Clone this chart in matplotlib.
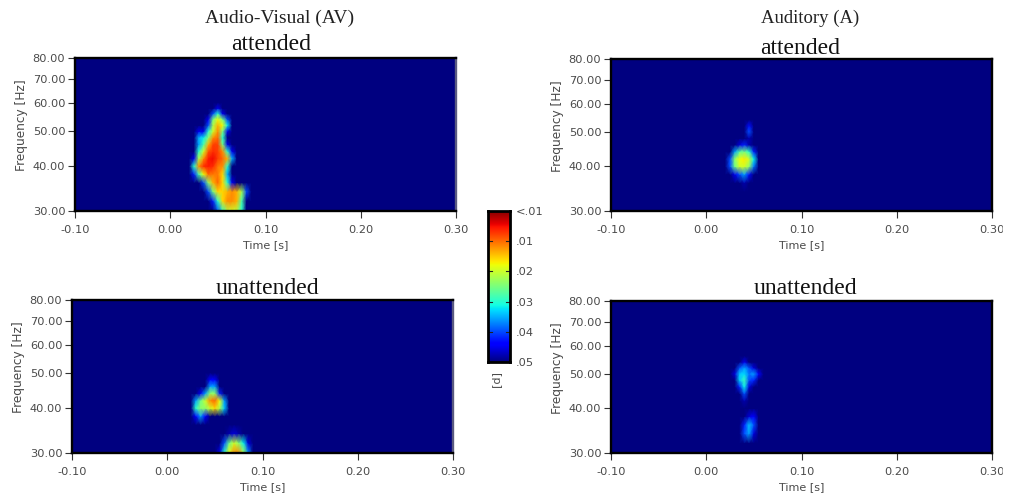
import matplotlib
matplotlib.use("Agg")
import matplotlib.pyplot as plt
from matplotlib.patches import Rectangle
import numpy as np

W, H = 1015, 500

# time / frequency grids of each heat map, p values
t_av_att = [.02, .025, .03, .035, .04, .045, .05, .055, .06, .065, .07, .075, .08, .085]
f_av_att = [30, 32, 34, 36, 38, 40, 42, 44, 46, 48, 50, 52, 54, 56, 58, 60]
p_av_att = [
    [.05, .05, .05, .05, .05, .05, .04, .03, .022, .02, .022, .03, .05, .05],
    [.05, .05, .05, .05, .05, .042, .03, .016, .012, .012, .014, .028, .05, .05],
    [.05, .05, .05, .05, .04, .025, .016, .016, .014, .012, .014, .022, .04, .05],
    [.05, .05, .05, .04, .024, .014, .01, .016, .03, .045, .05, .05, .05, .05],
    [.05, .042, .028, .018, .01, .011, .011, .016, .035, .05, .05, .05, .05, .05],
    [.05, .03, .012, .007, .006, .007, .011, .012, .03, .05, .05, .05, .05, .05],
    [.05, .045, .022, .012, .006, .005, .008, .01, .014, .035, .05, .05, .05, .05],
    [.05, .05, .03, .02, .009, .007, .008, .012, .03, .045, .05, .05, .05, .05],
    [.05, .05, .036, .028, .014, .008, .008, .025, .045, .05, .05, .05, .05, .05],
    [.05, .05, .035, .032, .024, .012, .01, .03, .05, .05, .05, .05, .05, .05],
    [.05, .05, .045, .045, .03, .02, .012, .025, .045, .05, .05, .05, .05, .05],
    [.05, .05, .05, .05, .04, .022, .014, .018, .032, .05, .05, .05, .05, .05],
    [.05, .05, .05, .05, .045, .025, .018, .025, .04, .05, .05, .05, .05, .05],
    [.05, .05, .05, .05, .05, .04, .03, .045, .05, .05, .05, .05, .05, .05],
    [.05, .05, .05, .05, .05, .05, .045, .05, .05, .05, .05, .05, .05, .05],
    [.05, .05, .05, .05, .05, .05, .05, .05, .05, .05, .05, .05, .05, .05],
]

t_av_un = [.025, .03, .035, .04, .045, .05, .055, .06, .065, .07, .075, .08, .085, .09]
f_av_un = [30, 32, 34, 36, 38, 40, 42, 44, 46, 48, 50]
p_av_un = [
    [.05, .05, .05, .05, .05, .05, .045, .03, .018, .012, .012, .022, .036, .05],
    [.05, .05, .05, .05, .05, .05, .05, .04, .026, .02, .024, .032, .046, .05],
    [.05, .05, .05, .05, .05, .05, .05, .05, .048, .046, .048, .05, .05, .05],
    [.05, .05, .05, .05, .05, .05, .05, .05, .05, .05, .05, .05, .05, .05],
    [.05, .044, .036, .044, .05, .05, .05, .05, .05, .05, .05, .05, .05, .05],
    [.05, .03, .024, .024, .02, .016, .022, .034, .05, .05, .05, .05, .05, .05],
    [.05, .036, .026, .02, .012, .01, .018, .036, .05, .05, .05, .05, .05, .05],
    [.05, .05, .045, .036, .024, .024, .042, .05, .05, .05, .05, .05, .05, .05],
    [.05, .05, .05, .05, .036, .036, .05, .05, .05, .05, .05, .05, .05, .05],
    [.05, .05, .05, .05, .044, .044, .05, .05, .05, .05, .05, .05, .05, .05],
    [.05, .05, .05, .05, .05, .05, .05, .05, .05, .05, .05, .05, .05, .05],
]

t_a_att = [.02, .025, .03, .035, .04, .045, .05, .055, .06]
f_a_att = [34, 36, 38, 40, 42, 44, 46, 48, 50, 52, 54]
p_a_att = [
    [.05, .05, .05, .05, .05, .05, .05, .05, .05],
    [.05, .05, .05, .05, .048, .05, .05, .05, .05],
    [.05, .05, .045, .04, .036, .043, .05, .05, .05],
    [.05, .04, .026, .02, .02, .024, .038, .05, .05],
    [.05, .04, .024, .018, .017, .02, .032, .05, .05],
    [.05, .05, .036, .027, .025, .03, .042, .05, .05],
    [.05, .05, .05, .046, .042, .048, .05, .05, .05],
    [.05, .05, .05, .05, .05, .048, .05, .05, .05],
    [.05, .05, .05, .05, .05, .04, .05, .05, .05],
    [.05, .05, .05, .05, .05, .043, .05, .05, .05],
    [.05, .05, .05, .05, .05, .05, .05, .05, .05],
]

t_a_un = [.025, .03, .035, .04, .045, .05, .055, .06]
f_a_un = [32, 34, 36, 38, 40, 42, 44, 46, 48, 50, 52, 54, 56]
p_a_un = [
    [.05, .05, .05, .05, .05, .05, .05, .05],
    [.05, .05, .05, .04, .036, .046, .05, .05],
    [.05, .05, .05, .042, .034, .04, .05, .05],
    [.05, .05, .05, .05, .046, .044, .05, .05],
    [.05, .05, .05, .05, .05, .05, .05, .05],
    [.05, .05, .05, .048, .05, .05, .05, .05],
    [.05, .05, .05, .04, .05, .05, .05, .05],
    [.05, .05, .042, .032, .046, .05, .05, .05],
    [.05, .05, .034, .029, .04, .042, .05, .05],
    [.05, .046, .034, .033, .038, .036, .044, .05],
    [.05, .05, .04, .036, .04, .046, .05, .05],
    [.05, .05, .05, .045, .05, .05, .05, .05],
    [.05, .05, .05, .05, .05, .05, .05, .05],
]

time_ticks = [-.1, 0, .1, .2, .3]
freq_ticks = [30, 40, 50, 60, 70, 80]
cbar_ticks = [0, .01, .02, .03, .04, .05]
cbar_labels = ["<.01", ".01", ".02", ".03", ".04", ".05"]

sans = "DejaVu Sans"
serif = "Liberation Serif"
grey = "#4a4a4a"
cmap = plt.get_cmap("jet_r")

fig = plt.figure(figsize=(W / 100, H / 100), dpi=100)


def px_axes(x0, y0, x1, y1):
    return fig.add_axes([x0 / W, 1 - y1 / H, (x1 - x0) / W, (y1 - y0) / H])


def heat(box, t, f, p, title, title_xy, right_col="black"):
    ax = px_axes(*box)
    ax.set_facecolor(cmap(1.0))
    ax.pcolormesh(t, f, p, shading="gouraud", cmap=cmap, vmin=0, vmax=.05, rasterized=True)
    ax.set_yscale("log")
    ax.set_xlim(-.1, .3)
    ax.set_ylim(30, 80)
    ax.set_xticks(time_ticks, ["%.2f" % v for v in time_ticks], fontsize=8.2, family=sans, color=grey)
    ax.set_yticks(freq_ticks, ["%.2f" % v for v in freq_ticks], fontsize=8.2, family=sans, color=grey)
    ax.minorticks_off()
    ax.tick_params(length=5, width=.8, pad=2, color="#333333")
    ax.tick_params(axis="x", pad=5)
    ax.set_xlabel("Time [s]", fontsize=8, family=sans, color=grey, labelpad=4)
    ax.set_ylabel("Frequency [Hz]", fontsize=8.7, family=sans, color=grey, labelpad=3, y=.56)
    for side in ax.spines:
        ax.spines[side].set_linewidth(1.7)
    ax.spines["right"].set_color(right_col)
    fig.text(title_xy[0] / W, 1 - title_xy[1] / H, title, fontsize=17, family=serif,
             ha="center", va="center", color="#111111")


heat((75, 58, 456, 211), t_av_att, f_av_att, p_av_att, "attended", (271, 45), "#5a5a80")
heat((72, 300, 453, 453), t_av_un, f_av_un, p_av_un, "unattended", (267, 289), "#5a5a80")
heat((611, 59, 992, 211), t_a_att, f_a_att, p_a_att, "attended", (800, 49))
heat((611, 301, 992, 453), t_a_un, f_a_un, p_a_un, "unattended", (805, 289))

fig.text(280 / W, 1 - 18 / H, "Audio-Visual (AV)", fontsize=14, family=serif, ha="center", va="center", color="#222222")
fig.text(810 / W, 1 - 18 / H, "Auditory (A)", fontsize=13.5, family=serif, ha="center", va="center", color="#222222")

# colour bar
cax = px_axes(488, 211, 510, 362)
cax.imshow(np.linspace(0, .05, 256)[:, None], aspect="auto", cmap=cmap, vmin=0, vmax=.05,
           extent=[0, 1, .05, 0])
cax.set_xticks([])
cax.yaxis.tick_right()
cax.set_yticks(cbar_ticks, cbar_labels, fontsize=8.2, family=sans, color=grey)
cax.tick_params(length=0, pad=4)
for v in cbar_ticks[1:-1]:
    cax.plot([0, .2], [v, v], color="#222222", lw=.8)
    cax.plot([.8, 1], [v, v], color="#222222", lw=.8)
for side in cax.spines:
    cax.spines[side].set_linewidth(2)
fig.text(495 / W, 1 - 381 / H, "[p]", fontsize=8, family=sans, rotation=270, ha="center", va="center", color=grey)

# the source image is cut off just right of the last tick label
fig.add_artist(Rectangle((1003 / W, 0), 12 / W, 1, transform=fig.transFigure, color="white", zorder=10))

fig.savefig("out.png", dpi=100)
